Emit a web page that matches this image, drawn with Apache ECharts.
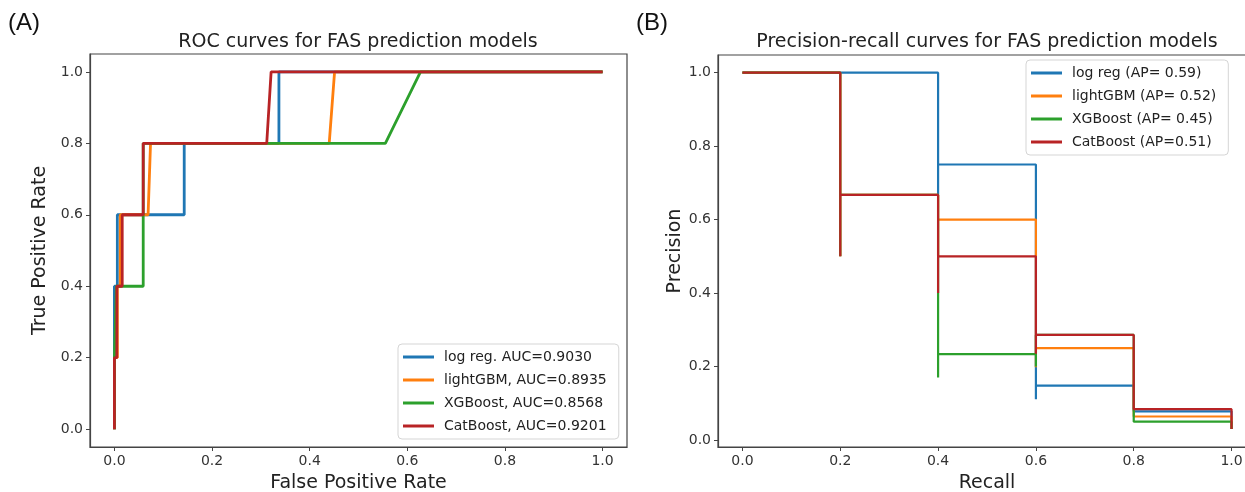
<!DOCTYPE html>
<html>
<head>
<meta charset="utf-8">
<script src="https://cdn.jsdelivr.net/npm/echarts@6/dist/echarts.min.js"></script>
<style>
  html, body { margin: 0; padding: 0; background: #fff; }
  #chart { width: 1245px; height: 492px; }
</style>
</head>
<body>
<div id="chart"></div>
<script>
// ROC curves (false positive rate, true positive rate)
var rocLogRegFpr = [0, 0, 0.006, 0.006, 0.143, 0.143, 0.337, 0.337, 1];
var rocLogRegTpr = [0, 0.4, 0.4, 0.6, 0.6, 0.8, 0.8, 1.0, 1.0];
var rocLgbmFpr = [0, 0, 0.006, 0.006, 0.012, 0.012, 0.069, 0.074, 0.44, 0.451, 1];
var rocLgbmTpr = [0, 0.2, 0.2, 0.4, 0.4, 0.6, 0.6, 0.8, 0.8, 1.0, 1.0];
var rocXgbFpr = [0, 0, 0.004, 0.004, 0.059, 0.059, 0.555, 0.627, 1];
var rocXgbTpr = [0, 0.2, 0.2, 0.4, 0.4, 0.8, 0.8, 1.0, 1.0];
var rocCatFpr = [0, 0, 0.005, 0.005, 0.016, 0.016, 0.059, 0.059, 0.312, 0.321, 1];
var rocCatTpr = [0, 0.2, 0.2, 0.4, 0.4, 0.6, 0.6, 0.8, 0.8, 1.0, 1.0];
var rocNames = ["log reg. AUC=0.9030", "lightGBM, AUC=0.8935", "XGBoost, AUC=0.8568", "CatBoost, AUC=0.9201"];

// Precision-recall curves (recall, precision), drawn from recall 1 down to 0
var prLogRegRecall = [1, 1, 0.8, 0.8, 0.6, 0.6, 0.6, 0.4, 0.4, 0.4, 0];
var prLogRegPrecision = [0.03, 0.078, 0.078, 0.148, 0.148, 0.111, 0.75, 0.75, 0.667, 1.0, 1.0];
var prLgbmRecall = [1, 1, 0.8, 0.8, 0.6, 0.6, 0.6, 0.4, 0.4, 0.4, 0.2, 0.2, 0.2, 0];
var prLgbmPrecision = [0.03, 0.064, 0.064, 0.25, 0.25, 0.198, 0.6, 0.6, 0.5, 0.667, 0.667, 0.5, 1.0, 1.0];
var prXgbRecall = [1, 1, 0.8, 0.8, 0.6, 0.6, 0.6, 0.4, 0.4, 0.4, 0.2, 0.2, 0.2, 0];
var prXgbPrecision = [0.03, 0.05, 0.05, 0.286, 0.286, 0.2, 0.234, 0.234, 0.17, 0.667, 0.667, 0.5, 1.0, 1.0];
var prCatRecall = [1, 1, 0.8, 0.8, 0.6, 0.6, 0.6, 0.4, 0.4, 0.4, 0.2, 0.2, 0.2, 0];
var prCatPrecision = [0.03, 0.084, 0.084, 0.286, 0.286, 0.235, 0.5, 0.5, 0.4, 0.667, 0.667, 0.5, 1.0, 1.0];
var prNames = ["log reg (AP= 0.59)", "lightGBM (AP= 0.52)", "XGBoost (AP= 0.45)", "CatBoost (AP=0.51)"];

var tickValues = [0, 0.2, 0.4, 0.6, 0.8, 1.0];
var colors = ["#1f77b4", "#ff7f0e", "#2ca02c", "#b82325"];

function zip(xs, ys) {
  return xs.map(function (x, i) { return [x, ys[i]]; });
}

var font = "DejaVu Sans";

function makeAxis(gridIndex, min, max, name, nameGap) {
  return {
    type: "value",
    gridIndex: gridIndex,
    min: min,
    max: max,
    name: name,
    nameLocation: "middle",
    nameGap: nameGap,
    nameTextStyle: { fontFamily: font, fontSize: 19, color: "#222" },
    axisLine: { show: true, onZero: false, lineStyle: { color: "#444", width: 1.2 } },
    axisTick: { show: true, inside: false, length: 4, customValues: tickValues, lineStyle: { color: "#444" } },
    axisLabel: {
      customValues: tickValues,
      fontFamily: font,
      fontSize: 14,
      color: "#333",
      margin: 7,
      formatter: function (v) { return v.toFixed(1); }
    },
    splitLine: { show: false }
  };
}

function lineSeries(name, data, idx, color, width) {
  return {
    name: name,
    type: "line",
    xAxisIndex: idx,
    yAxisIndex: idx,
    data: data,
    symbol: "none",
    lineStyle: { color: color, width: width },
    itemStyle: { color: color },
    z: 2
  };
}

function makeLegend(names, left, top) {
  return {
    data: names,
    orient: "vertical",
    left: left,
    top: top,
    icon: "rect",
    itemWidth: 31,
    itemHeight: 3,
    itemGap: 9,
    padding: [6, 12, 6, 5],
    backgroundColor: "rgba(255,255,255,0.85)",
    borderColor: "#d5d5d5",
    borderWidth: 1,
    borderRadius: 4,
    selectedMode: false,
    textStyle: { fontFamily: font, fontSize: 14, color: "#222", padding: [0, 0, 0, 5] }
  };
}

var option = {
  animation: false,
  backgroundColor: "#fff",
  graphic: [
    { type: "text", x: 8, y: 11, style: { text: "(A)", font: "24px Liberation Sans", fill: "#111" } },
    { type: "text", x: 636, y: 11, style: { text: "(B)", font: "24px Liberation Sans", fill: "#111" } },
    { type: "text", x: 358, y: 42, style: { text: "ROC curves for FAS prediction models", font: "19px DejaVu Sans", fill: "#222", align: "center", verticalAlign: "middle" } },
    { type: "text", x: 987, y: 42, style: { text: "Precision-recall curves for FAS prediction models", font: "19px DejaVu Sans", fill: "#222", align: "center", verticalAlign: "middle" } }
  ],
  grid: [
    { left: 90, top: 54, width: 537, height: 393, outerBoundsMode: "none", show: true, borderColor: "#444", borderWidth: 1.2, backgroundColor: "transparent" },
    { left: 718, top: 55, width: 538, height: 392, outerBoundsMode: "none", show: true, borderColor: "#444", borderWidth: 1.2, backgroundColor: "transparent" }
  ],
  xAxis: [
    makeAxis(0, -0.05, 1.05, "False Positive Rate", 27),
    makeAxis(1, -0.05, 1.05, "Recall", 27)
  ],
  yAxis: [
    makeAxis(0, -0.05, 1.05, "True Positive Rate", 40),
    makeAxis(1, -0.019, 1.048, "Precision", 31)
  ],
  legend: [
    makeLegend(rocNames, 398, 344),
    makeLegend(prNames, 1026, 60)
  ],
  series: [
    lineSeries(rocNames[0], zip(rocLogRegFpr, rocLogRegTpr), 0, colors[0], 2.8),
    lineSeries(rocNames[1], zip(rocLgbmFpr, rocLgbmTpr), 0, colors[1], 2.8),
    lineSeries(rocNames[2], zip(rocXgbFpr, rocXgbTpr), 0, colors[2], 2.8),
    lineSeries(rocNames[3], zip(rocCatFpr, rocCatTpr), 0, colors[3], 2.8),
    lineSeries(prNames[0], zip(prLogRegRecall, prLogRegPrecision), 1, colors[0], 2.2),
    lineSeries(prNames[1], zip(prLgbmRecall, prLgbmPrecision), 1, colors[1], 2.2),
    lineSeries(prNames[2], zip(prXgbRecall, prXgbPrecision), 1, colors[2], 2.2),
    lineSeries(prNames[3], zip(prCatRecall, prCatPrecision), 1, colors[3], 2.2)
  ]
};

var chart = echarts.init(document.getElementById("chart"));
chart.setOption(option);
</script>
</body>
</html>
